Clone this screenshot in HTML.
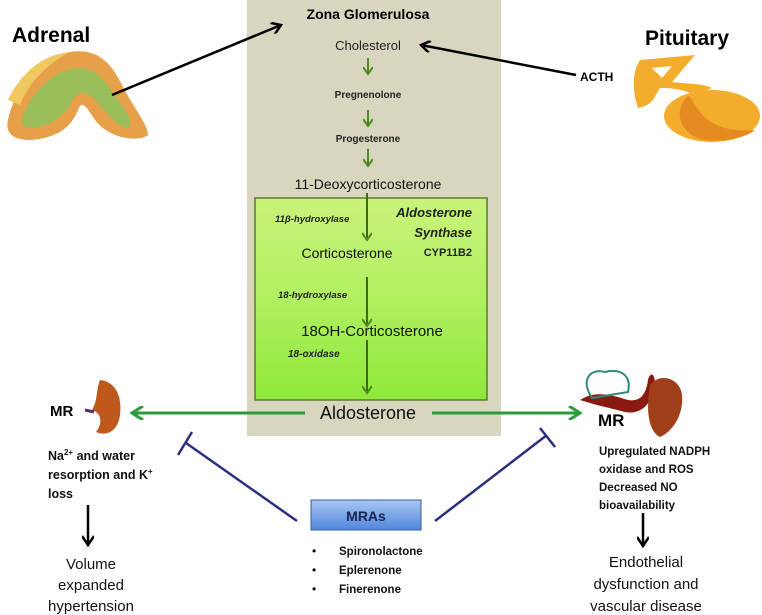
<!DOCTYPE html>
<html><head><meta charset="utf-8"><style>
html,body{margin:0;padding:0;background:#fff;width:762px;height:615px;overflow:hidden}
svg{display:block}
text{font-family:"Liberation Sans",sans-serif}
</style></head><body>
<svg width="762" height="615" viewBox="0 0 762 615" xmlns="http://www.w3.org/2000/svg">
<defs>
<linearGradient id="gg" x1="0" y1="0" x2="0" y2="1"><stop offset="0" stop-color="#c9f27a"/><stop offset="0.5" stop-color="#b0f060"/><stop offset="1" stop-color="#8fe83a"/></linearGradient>
<linearGradient id="bg" x1="0" y1="0" x2="0" y2="1"><stop offset="0" stop-color="#a9c6f2"/><stop offset="1" stop-color="#4f86dc"/></linearGradient>
<marker id="ga" markerWidth="10" markerHeight="10" refX="8" refY="5" orient="auto" markerUnits="userSpaceOnUse"><path d="M1,0 L8,5 L1,10" fill="none" stroke="#4f8a1e" stroke-width="2"/></marker>
<marker id="ka" markerWidth="12" markerHeight="12" refX="10" refY="6" orient="auto" markerUnits="userSpaceOnUse"><path d="M1,0 L10,6 L1,12" fill="none" stroke="#000" stroke-width="2.5"/></marker>
<marker id="ma" markerWidth="14" markerHeight="14" refX="12" refY="7" orient="auto" markerUnits="userSpaceOnUse"><path d="M1,0 L12,7 L1,14" fill="none" stroke="#2a9a3a" stroke-width="3"/></marker>
</defs>
<rect x="247" y="0" width="254" height="436" fill="#d9d6bf"/>
<rect x="255" y="198" width="232" height="202" fill="url(#gg)" stroke="#5c7a2c" stroke-width="1.5"/>
<text x="368" y="19" font-size="14" font-weight="bold" text-anchor="middle">Zona Glomerulosa</text>
<text x="368" y="50" font-size="13" text-anchor="middle" fill="#222">Cholesterol</text>
<line x1="368" y1="58" x2="368" y2="74" stroke="#4f8a1e" stroke-width="2" marker-end="url(#ga)"/>
<text x="368" y="98" font-size="10" font-weight="bold" text-anchor="middle" fill="#222">Pregnenolone</text>
<line x1="368" y1="110" x2="368" y2="126" stroke="#4f8a1e" stroke-width="2" marker-end="url(#ga)"/>
<text x="368" y="142" font-size="10" font-weight="bold" text-anchor="middle" fill="#222">Progesterone</text>
<line x1="368" y1="149" x2="368" y2="166" stroke="#4f8a1e" stroke-width="2" marker-end="url(#ga)"/>
<text x="368" y="189" font-size="14" text-anchor="middle" fill="#111">11-Deoxycorticosterone</text>
<line x1="367" y1="193" x2="367" y2="240" stroke="#3a6a1a" stroke-width="2" marker-end="url(#ga)"/>
<text x="275" y="222" font-size="9.5" font-weight="bold" font-style="italic" fill="#222">11β-hydroxylase</text>
<text x="472" y="217" font-size="13" font-weight="bold" font-style="italic" text-anchor="end" fill="#222">Aldosterone</text>
<text x="472" y="237" font-size="13" font-weight="bold" font-style="italic" text-anchor="end" fill="#222">Synthase</text>
<text x="472" y="256" font-size="11" font-weight="bold" text-anchor="end" fill="#222">CYP11B2</text>
<text x="347" y="258" font-size="14" text-anchor="middle" fill="#111">Corticosterone</text>
<line x1="367" y1="277" x2="367" y2="326" stroke="#3a6a1a" stroke-width="2" marker-end="url(#ga)"/>
<text x="278" y="298" font-size="9.5" font-weight="bold" font-style="italic" fill="#222">18-hydroxylase</text>
<text x="372" y="336" font-size="15" text-anchor="middle" fill="#111">18OH-Corticosterone</text>
<line x1="367" y1="340" x2="367" y2="393" stroke="#3a6a1a" stroke-width="2" marker-end="url(#ga)"/>
<text x="288" y="357" font-size="10" font-weight="bold" font-style="italic" fill="#222">18-oxidase</text>
<text x="368" y="419" font-size="18" text-anchor="middle" fill="#111">Aldosterone</text>
<line x1="305" y1="413" x2="132" y2="413" stroke="#2a9a3a" stroke-width="3" marker-end="url(#ma)"/>
<line x1="432" y1="413" x2="580" y2="413" stroke="#2a9a3a" stroke-width="3" marker-end="url(#ma)"/>
<!-- adrenal -->
<text x="12" y="42" font-size="21" font-weight="bold">Adrenal</text>
<path d="M8,120 C15,90 35,60 70,52 C95,48 110,60 122,85 C135,110 148,125 148,135 C140,142 110,140 95,120 C85,105 82,100 78,110 C72,125 60,138 30,140 C12,140 5,132 8,120Z" fill="#e6a04a"/>
<path d="M22,118 C30,95 50,72 75,68 C98,66 108,85 118,100 C126,112 135,122 128,128 C115,126 105,110 95,100 C85,88 75,92 70,105 C62,118 50,125 35,128 C25,128 20,125 22,118Z" fill="#9bbd5a"/>
<path d="M8,100 C20,75 40,55 70,52 C50,62 30,80 20,105Z" fill="#f0c860"/>
<line x1="112" y1="95" x2="281" y2="25" stroke="#000" stroke-width="2.5" marker-end="url(#ka)"/>
<!-- pituitary -->
<text x="645" y="45" font-size="21" font-weight="bold">Pituitary</text>
<text x="580" y="81" font-size="12" font-weight="bold">ACTH</text>
<line x1="576" y1="75" x2="421" y2="45" stroke="#000" stroke-width="2.5" marker-end="url(#ka)"/>
<path d="M640,60 L695,55 L672,82 C690,84 705,84 712,88 L695,95 C680,88 668,88 660,88 C655,95 654,105 638,108 C632,90 632,72 640,60Z" fill="#f3ac2c"/>
<path d="M652,68 L672,66 L662,78Z" fill="#fff"/>
<ellipse cx="712" cy="116" rx="48" ry="26" fill="#f3ac2c"/>
<path d="M688,96 C672,110 680,136 705,140 C725,142 745,138 755,130 C735,132 712,128 700,112 C694,104 692,98 688,96Z" fill="#e58a20"/>
<!-- left MR -->
<text x="50" y="416" font-size="15" font-weight="bold">MR</text>
<path d="M100,380 C118,382 122,400 120,415 C118,430 108,437 96,432 C104,422 100,412 92,410 C98,400 96,390 100,380Z" fill="#c0581e"/>
<line x1="85" y1="410" x2="94" y2="412" stroke="#503060" stroke-width="3"/>
<text x="48" y="460" font-size="12.5" font-weight="bold" fill="#111">Na<tspan font-size="8" dy="-5">2+</tspan><tspan dy="5"> and water</tspan></text>
<text x="48" y="479" font-size="12.5" font-weight="bold" fill="#111">resorption and K<tspan font-size="8" dy="-5">+</tspan></text>
<text x="48" y="498" font-size="12.5" font-weight="bold" fill="#111">loss</text>
<line x1="88" y1="505" x2="88" y2="545" stroke="#000" stroke-width="2.5" marker-end="url(#ka)"/>
<text x="91" y="569" font-size="15" text-anchor="middle" fill="#111">Volume</text>
<text x="91" y="590" font-size="15" text-anchor="middle" fill="#111">expanded</text>
<text x="91" y="611" font-size="15" text-anchor="middle" fill="#111">hypertension</text>
<!-- right MR -->
<path d="M580,400 C595,390 612,395 628,400 C640,402 646,395 648,380 C650,372 655,372 655,385 C652,405 640,415 625,412 C610,408 595,405 580,400Z" fill="#8a1a10"/>
<path d="M592,398 C580,380 590,368 605,372 C620,368 632,375 628,392Z" fill="none" stroke="#2e8a7a" stroke-width="2"/>
<path d="M650,385 C660,372 680,378 682,395 C684,415 672,432 660,437 C650,432 645,415 650,385Z" fill="#a0401a"/>
<text x="598" y="426" font-size="17" font-weight="bold">MR</text>
<text x="599" y="455" font-size="11.5" font-weight="bold" fill="#111">Upregulated NADPH</text>
<text x="599" y="473" font-size="11.5" font-weight="bold" fill="#111">oxidase and ROS</text>
<text x="599" y="491" font-size="11.5" font-weight="bold" fill="#111">Decreased NO</text>
<text x="599" y="509" font-size="11.5" font-weight="bold" fill="#111">bioavailability</text>
<line x1="643" y1="513" x2="643" y2="546" stroke="#000" stroke-width="2.5" marker-end="url(#ka)"/>
<text x="646" y="567" font-size="15" text-anchor="middle" fill="#111">Endothelial</text>
<text x="646" y="589" font-size="15" text-anchor="middle" fill="#111">dysfunction and</text>
<text x="646" y="611" font-size="15" text-anchor="middle" fill="#111">vascular disease</text>
<!-- MRA inhibition -->
<line x1="297" y1="521" x2="186" y2="443" stroke="#2a2f80" stroke-width="2.5"/>
<line x1="178" y1="455" x2="192" y2="432" stroke="#2a2f80" stroke-width="2.5"/>
<line x1="435" y1="521" x2="547" y2="435" stroke="#2a2f80" stroke-width="2.5"/>
<line x1="540" y1="428" x2="555" y2="447" stroke="#2a2f80" stroke-width="2.5"/>
<rect x="311" y="500" width="110" height="30" fill="url(#bg)" stroke="#3a5a9a" stroke-width="1"/>
<text x="366" y="521" font-size="14" font-weight="bold" text-anchor="middle" fill="#1a2450">MRAs</text>
<text x="312" y="555" font-size="12">•</text>
<text x="312" y="574" font-size="12">•</text>
<text x="312" y="593" font-size="12">•</text>
<text x="339" y="555" font-size="11.5" font-weight="bold" fill="#111">Spironolactone</text>
<text x="339" y="574" font-size="11.5" font-weight="bold" fill="#111">Eplerenone</text>
<text x="339" y="593" font-size="11.5" font-weight="bold" fill="#111">Finerenone</text>
</svg>
</body></html>
